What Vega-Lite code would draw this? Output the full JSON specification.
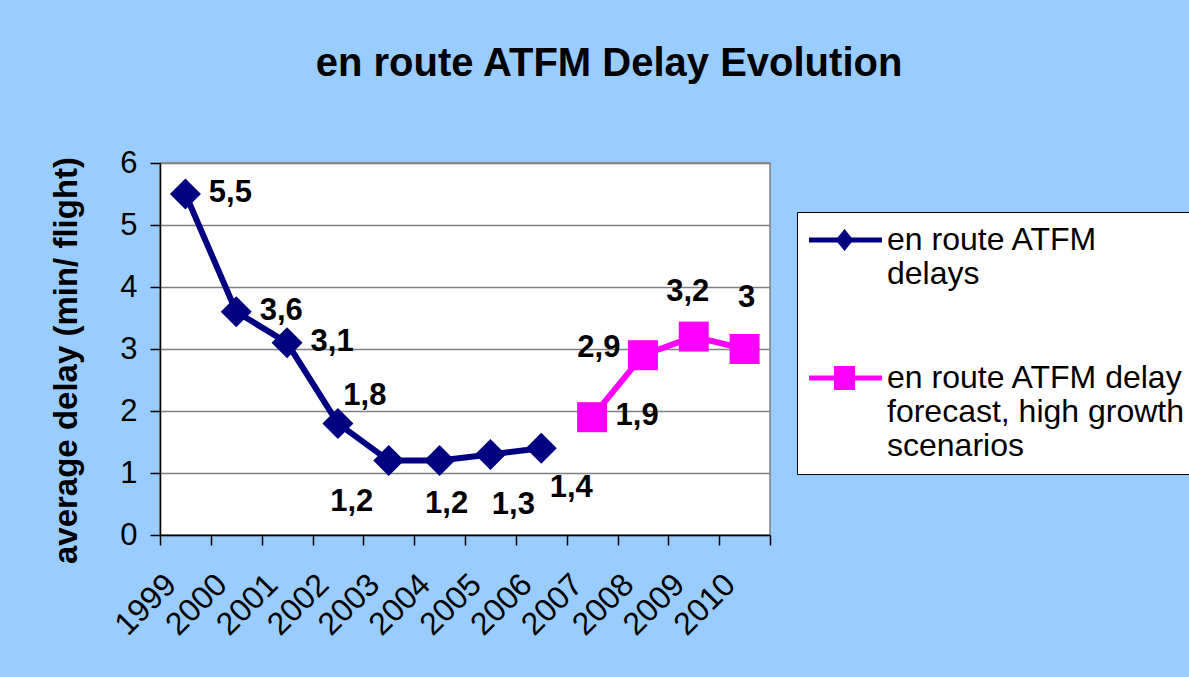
{
  "$schema": "https://vega.github.io/schema/vega-lite/v6.json",
  "width": 610,
  "height": 372,
  "autosize": {"type": "none"},
  "padding": {"left": 160, "top": 163, "right": 419, "bottom": 142},
  "background": "#99CCFF",
  "config": {
    "font": "Liberation Sans",
    "locale": {"number": {"decimal": ",", "thousands": ".", "grouping": [3], "currency": ["", " €"]}},
    "view": {"fill": "white", "stroke": "#808080", "strokeWidth": 1.5}
  },
  "title": {
    "text": "en route ATFM Delay Evolution",
    "fontSize": 40,
    "fontWeight": "bold",
    "color": "black",
    "anchor": "middle",
    "frame": "group",
    "dx": 144,
    "offset": 31,
    "baseline": "alphabetic"
  },
  "data": {
    "values": [
      {"year": "1999", "delay": 5.5, "series": "en route ATFM delays"},
      {"year": "2000", "delay": 3.6, "series": "en route ATFM delays"},
      {"year": "2001", "delay": 3.1, "series": "en route ATFM delays"},
      {"year": "2002", "delay": 1.8, "series": "en route ATFM delays"},
      {"year": "2003", "delay": 1.2, "series": "en route ATFM delays"},
      {"year": "2004", "delay": 1.2, "series": "en route ATFM delays"},
      {"year": "2005", "delay": 1.3, "series": "en route ATFM delays"},
      {"year": "2006", "delay": 1.4, "series": "en route ATFM delays"},
      {"year": "2007", "delay": 1.9, "series": "en route ATFM delay forecast, high growth scenarios"},
      {"year": "2008", "delay": 2.9, "series": "en route ATFM delay forecast, high growth scenarios"},
      {"year": "2009", "delay": 3.2, "series": "en route ATFM delay forecast, high growth scenarios"},
      {"year": "2010", "delay": 3.0, "series": "en route ATFM delay forecast, high growth scenarios"}
    ]
  },
  "encoding": {
    "x": {
      "field": "year",
      "type": "ordinal",
      "scale": {"type": "band", "paddingInner": 0, "paddingOuter": 0},
      "axis": {
        "title": null,
        "labelAngle": -45,
        "labelAlign": "right",
        "labelBaseline": "middle",
        "labelFontSize": 32,
        "labelColor": "black",
        "labelPadding": 34,
        "labelOffset": -15,
        "tickBand": "extent",
        "tickSize": 10,
        "tickColor": "black",
        "tickWidth": 1.5,
        "domainColor": "black",
        "domainWidth": 1.5,
        "grid": false
      }
    },
    "y": {
      "field": "delay",
      "type": "quantitative",
      "scale": {"domain": [0, 6], "nice": false},
      "axis": {
        "title": "average delay (min/ flight)",
        "titleFontSize": 33,
        "titleFontWeight": "bold",
        "titleColor": "black",
        "titlePadding": 36,
        "titleY": 197,
        "values": [0, 1, 2, 3, 4, 5, 6],
        "format": "d",
        "labelFontSize": 31,
        "labelColor": "black",
        "labelPadding": 13,
        "tickSize": 10,
        "tickColor": "black",
        "tickWidth": 1.5,
        "domainColor": "black",
        "domainWidth": 1.5,
        "grid": true,
        "gridColor": "#808080",
        "gridWidth": 1.5
      }
    }
  },
  "layer": [
    {
      "transform": [{"filter": {"field": "series", "equal": "en route ATFM delays"}}],
      "mark": {"type": "line", "strokeWidth": 6, "color": "#000080"},
      "encoding": {}
    },
    {
      "transform": [{"filter": {"field": "series", "equal": "en route ATFM delay forecast, high growth scenarios"}}],
      "mark": {"type": "line", "strokeWidth": 6, "color": "#FF00FF"},
      "encoding": {}
    },
    {
      "transform": [{"filter": {"field": "series", "equal": "en route ATFM delays"}}],
      "mark": {"type": "point", "shape": "diamond", "filled": true, "size": 961, "opacity": 1, "color": "#000080"}
    },
    {
      "transform": [{"filter": {"field": "series", "equal": "en route ATFM delay forecast, high growth scenarios"}}],
      "mark": {"type": "point", "shape": "square", "filled": true, "size": 900, "opacity": 1, "color": "#FF00FF"}
    },
    {
      "mark": {"type": "point", "filled": true, "opacity": 0},
      "encoding": {
        "color": {
          "field": "series",
          "type": "nominal",
          "scale": {"domain": ["en route ATFM delays", "en route ATFM delay forecast, high growth scenarios"], "range": ["#000080", "#FF00FF"]},
          "legend": {
            "title": null, "orient": "none", "legendX": 637, "legendY": 49, "direction": "vertical",
            "fillColor": "white", "strokeColor": "black", "padding": 12,
            "symbolSize": 1024, "symbolStrokeWidth": 0, "symbolOpacity": 1,
            "labelFontSize": 32, "labelFont": "Liberation Sans", "labelColor": "black", "labelLimit": 500,
            "labelOffset": 46, "labelBaseline": "middle", "rowPadding": 72,
            "labelExpr": "datum.label == 'en route ATFM delays' ? ['en route ATFM', 'delays'] : ['en route ATFM delay', 'forecast, high growth', 'scenarios']"
          }
        },
        "shape": {
          "field": "series",
          "type": "nominal",
          "scale": {"domain": ["en route ATFM delays", "en route ATFM delay forecast, high growth scenarios"], "range": ["M-1,-0.16L3.56,-0.16L3.56,0.16L-1,0.16Z M0.66,0L1.22,-0.69L1.78,0L1.22,0.69Z", "M-1,-0.16L3.56,-0.16L3.56,0.16L-1,0.16Z M0.56,-0.75L1.88,-0.75L1.88,0.75L0.56,0.75Z"]},
          "legend": {
            "title": null, "orient": "none", "legendX": 637, "legendY": 49, "direction": "vertical",
            "fillColor": "white", "strokeColor": "black", "padding": 12,
            "symbolSize": 1024, "symbolStrokeWidth": 0, "symbolOpacity": 1,
            "labelFontSize": 32, "labelFont": "Liberation Sans", "labelColor": "black", "labelLimit": 500,
            "labelOffset": 46, "labelBaseline": "middle", "rowPadding": 72,
            "labelExpr": "datum.label == 'en route ATFM delays' ? ['en route ATFM', 'delays'] : ['en route ATFM delay', 'forecast, high growth', 'scenarios']"
          }
        }
      }
    },
    {
      "transform": [{"filter": {"field": "year", "oneOf": ["1999", "2000", "2001", "2007"]}}],
      "mark": {"type": "text", "fontSize": 31, "fontWeight": "bold", "color": "black", "align": "center", "baseline": "middle", "dx": 45, "dy": -1},
      "encoding": {"text": {"field": "delay", "type": "quantitative", "format": ".1~f"}}
    },
    {
      "transform": [{"filter": {"field": "year", "equal": "2002"}}],
      "mark": {"type": "text", "fontSize": 31, "fontWeight": "bold", "color": "black", "align": "center", "baseline": "middle", "dx": 27, "dy": -27},
      "encoding": {"text": {"field": "delay", "type": "quantitative", "format": ".1~f"}}
    },
    {
      "transform": [{"filter": {"field": "year", "equal": "2003"}}],
      "mark": {"type": "text", "fontSize": 31, "fontWeight": "bold", "color": "black", "align": "center", "baseline": "middle", "dx": -37, "dy": 41},
      "encoding": {"text": {"field": "delay", "type": "quantitative", "format": ".1~f"}}
    },
    {
      "transform": [{"filter": {"field": "year", "equal": "2004"}}],
      "mark": {"type": "text", "fontSize": 31, "fontWeight": "bold", "color": "black", "align": "center", "baseline": "middle", "dx": 7, "dy": 43},
      "encoding": {"text": {"field": "delay", "type": "quantitative", "format": ".1~f"}}
    },
    {
      "transform": [{"filter": {"field": "year", "equal": "2005"}}],
      "mark": {"type": "text", "fontSize": 31, "fontWeight": "bold", "color": "black", "align": "center", "baseline": "middle", "dx": 23, "dy": 51},
      "encoding": {"text": {"field": "delay", "type": "quantitative", "format": ".1~f"}}
    },
    {
      "transform": [{"filter": {"field": "year", "equal": "2006"}}],
      "mark": {"type": "text", "fontSize": 31, "fontWeight": "bold", "color": "black", "align": "center", "baseline": "middle", "dx": 30, "dy": 40},
      "encoding": {"text": {"field": "delay", "type": "quantitative", "format": ".1~f"}}
    },
    {
      "transform": [{"filter": {"field": "year", "equal": "2008"}}],
      "mark": {"type": "text", "fontSize": 31, "fontWeight": "bold", "color": "black", "align": "center", "baseline": "middle", "dx": -44, "dy": -7},
      "encoding": {"text": {"field": "delay", "type": "quantitative", "format": ".1~f"}}
    },
    {
      "transform": [{"filter": {"field": "year", "equal": "2009"}}],
      "mark": {"type": "text", "fontSize": 31, "fontWeight": "bold", "color": "black", "align": "center", "baseline": "middle", "dx": -6, "dy": -45},
      "encoding": {"text": {"field": "delay", "type": "quantitative", "format": ".1~f"}}
    },
    {
      "transform": [{"filter": {"field": "year", "equal": "2010"}}],
      "mark": {"type": "text", "fontSize": 31, "fontWeight": "bold", "color": "black", "align": "center", "baseline": "middle", "dx": 2, "dy": -51},
      "encoding": {"text": {"field": "delay", "type": "quantitative", "format": ".1~f"}}
    }
  ]
}
